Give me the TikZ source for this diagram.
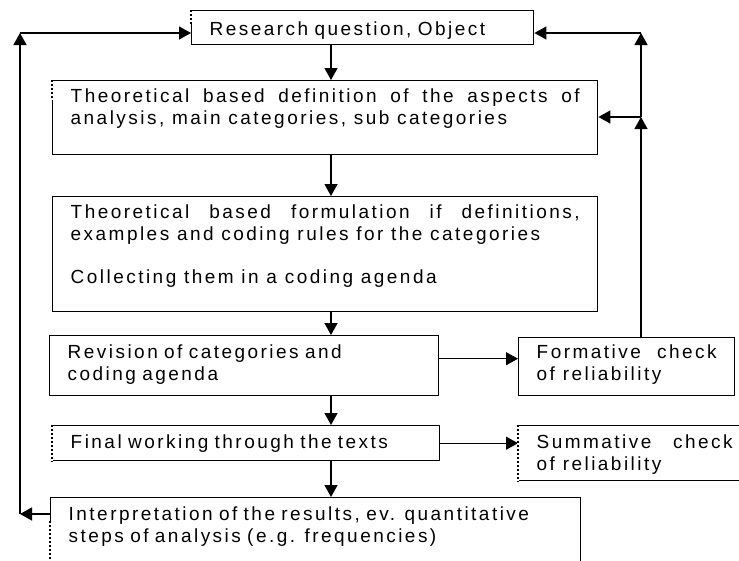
\documentclass[tikz,border=0pt]{standalone}
\usepackage{fontspec}
\setmainfont{Liberation Sans}[LetterSpace=13]
\usetikzlibrary{arrows.meta}
\setlength{\parindent}{0pt}
\tikzset{
        box/.style={draw=black, line width=1.4pt, anchor=north west, inner xsep=18pt, inner ysep=0pt,
          font=\fontsize{19}{22}\selectfont, align=left},
        just/.style={align=justify},
        arr/.style={-{Triangle[length=12pt,width=13pt]}, line width=1.3pt},
        dotside/.style={draw=white, line width=2.2pt, postaction={draw=black, line width=1.3pt, dash pattern=on 2pt off 2pt}}
          }
\begin{document}
\begin{tikzpicture}[x=1pt, y=-1pt]
  \useasboundingbox (0,0) rectangle (739,560);
  \clip (0,0) rectangle (739,560);
  \node[box, text width=306pt, text height=25pt, text depth=9pt] (b1) at (191,10) {Research question, Object};
  \node[box, just, text width=509pt, text height=22pt, text depth=52pt] (b2) at (52,80)
    {Theoretical based definition of the aspects of\linebreak analysis, main categories, sub categories};
  \node[box, just, text width=509pt, text height=22pt, text depth=93pt] (b3) at (52,196)
    {Theoretical based formulation if definitions,\linebreak examples and coding rules for the categories\par\vspace{21pt}Collecting them in a coding agenda};
  \node[box, text width=353pt, text height=23pt, text depth=37pt] (b4) at (49,335) {Revision of categories and\\coding agenda};
  \node[box, just, text width=180pt, text height=21pt, text depth=37pt] (b5) at (518,337) {Formative check\linebreak of reliability};
  \node[box, text width=351pt, text height=23pt, text depth=12pt] (b6) at (52,425) {Final working through the texts};
  \node[box, just, text width=196pt, text height=23pt, text depth=32pt] (b7) at (518,425) {Summative check\linebreak of reliability};
  \node[box, text width=494pt, text height=23pt, text depth=60pt] (b8) at (50,497)
    {Interpretation of the results, ev. quantitative\\steps of analysis (e.g. frequencies)};

  \coordinate (spine) at (331,0);
  \coordinate (rj) at (641,117);
  \coordinate (rt) at (641,33);
  \coordinate (lb) at (20,514);
  \coordinate (lt) at (20,33);

  \draw[arr] (b1.south -| spine) -- (b2.north -| spine);
  \draw[arr] (b2.south -| spine) -- (b3.north -| spine);
  \draw[arr] (b3.south -| spine) -- (b4.north -| spine);
  \draw[arr] (b4.south -| spine) -- (b6.north -| spine);
  \draw[arr] (b6.south -| spine) -- (b8.north -| spine);
  \draw[arr] ([yshift=7pt]b4.east) -- ([yshift=7pt]b4.east -| b5.west);
  \draw[arr] (b6.east) -- (b6.east -| b7.west);
  \draw[arr] (b5.north -| rj) -- (rj);
  \draw[arr] (rj) -- (rj -| b2.east);
  \draw[arr] (rj) -- (rt);
  \draw[arr] (rt) -- (rt -| b1.east);
  \draw[arr] (lb -| b8.west) -- (lb);
  \draw[arr] (lb) -- (lt);
  \draw[arr] (lt) -- (lt -| b1.west);

  \draw[dotside] (b1.north west) -- ([yshift=-14pt]b1.north west);
  \draw[dotside] (b2.north west) -- ([yshift=-20pt]b2.north west);
  \draw[dotside] (b6.north west) -- (b6.south west);
  \draw[dotside] (b7.north west) -- (b7.south west);
  \draw[dotside] ([yshift=-24pt]b8.north west) -- (b8.south west);
\end{tikzpicture}
\end{document}
